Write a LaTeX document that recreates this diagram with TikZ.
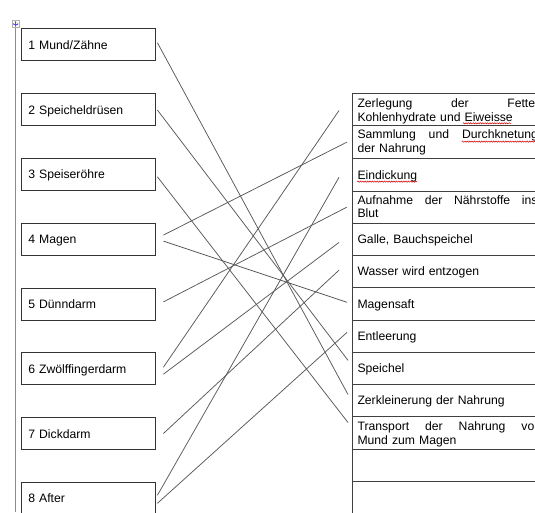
\documentclass[tikz,border=0pt]{standalone}
\usepackage{fontspec}
\setmainfont{Liberation Sans}
\usetikzlibrary{decorations.pathmorphing,arrows.meta}
\begin{document}
\begin{tikzpicture}[x=1pt,y=-1pt,
  txt/.style={font=\fontsize{12.2}{13.6}\selectfont},
  lbox/.style={txt, draw=black!80, line width=0.8pt, inner xsep=7.3pt, inner ysep=0pt,
    text width=119.4pt, align=left, minimum height=32pt, text height=10pt, text depth=0.8pt},
  rrow/.style={draw=black!75, line width=0.7pt, minimum width=250pt, anchor=north west, inner sep=0pt},
  rtext/.style={txt, anchor=base west, inner sep=0pt, text width=200pt, align=left},
  conn/.style={draw=black!65, line width=0.75pt},
  wavy/.style={draw=red!85!black, line width=0.5pt, decorate,
    decoration={snake, amplitude=0.6pt, segment length=2.4pt}}]
\useasboundingbox (0,0) rectangle (535,512);
\clip (0,0) rectangle (535,512);
\fill[white] (0,0) rectangle (535,512);

% left margin line and move handle
\draw[black!45, line width=1.3pt] (15.7,21) -- (15.7,512);
\node[draw=black!30, fill=white, minimum size=7pt, inner sep=0pt] (icon) at (15.6,24) {};
\draw[blue!70, line width=0.5pt, {Stealth[length=1.3pt,width=1.6pt]}-{Stealth[length=1.3pt,width=1.6pt]}] ([xshift=-2.8pt]icon.center) -- ([xshift=2.8pt]icon.center);
\draw[blue!70, line width=0.5pt, {Stealth[length=1.3pt,width=1.6pt]}-{Stealth[length=1.3pt,width=1.6pt]}] ([yshift=-2.8pt]icon.center) -- ([yshift=2.8pt]icon.center);

% left boxes
\node[lbox] (b1) at (88,44.7) {1 Mund/Zähne};
\node[lbox] (b2) at (88,109.5) {2 Speicheldrüsen};
\node[lbox] (b3) at (88,174.3) {3 Speiseröhre};
\node[lbox] (b4) at (88,239.1) {4 Magen};
\node[lbox] (b5) at (88,303.9) {5 Dünndarm};
\node[lbox] (b6) at (88,368.7) {6 Zwölffingerdarm};
\node[lbox] (b7) at (88,433.5) {7 Dickdarm};
\node[lbox] (b8) at (88,498.3) {8 After};

% right table rows
\node[rrow, minimum height=31.7pt] (r1) at (351.5,93.3) {};
\node[rrow, minimum height=33.4pt] (r2) at (351.5,125) {};
\node[rrow, minimum height=32.1pt] (r3) at (351.5,158.4) {};
\node[rrow, minimum height=32.4pt] (r4) at (351.5,190.5) {};
\node[rrow, minimum height=32.3pt] (r5) at (351.5,222.9) {};
\node[rrow, minimum height=32.2pt] (r6) at (351.5,255.2) {};
\node[rrow, minimum height=32.1pt] (r7) at (351.5,287.4) {};
\node[rrow, minimum height=32.5pt] (r8) at (351.5,319.5) {};
\node[rrow, minimum height=32pt] (r9) at (351.5,352) {};
\node[rrow, minimum height=32.3pt] (r10) at (351.5,384) {};
\node[rrow, minimum height=32.7pt] (r11) at (351.5,416.3) {};
\node[rrow, minimum height=32.2pt] (r12) at (351.5,449) {};
\node[rrow, minimum height=33pt] (r13) at (351.5,481.2) {};

% right texts
\node[rtext] (t1) at (357.3,107.5) {\hbox to 181pt{Zerlegung\hfill der\hfill Fette,}\\Kohlenhydrate und Eiweisse};
\node[rtext] (t2) at (357.3,138.7) {\hbox to 180.5pt{Sammlung\hfill und\hfill Durchknetung}\\der Nahrung};
\node[rtext] (t3) at (357.3,179) {Eindickung};
\node[rtext] (t4) at (357.3,204) {\hbox to 180pt{Aufnahme\hfill der\hfill Nährstoffe\hfill ins}\\Blut};
\node[rtext] (t5) at (357.3,243.5) {Galle, Bauchspeichel};
\node[rtext] (t6) at (357.3,275.8) {Wasser wird entzogen};
\node[rtext] (t7) at (357.3,308) {Magensaft};
\node[rtext] (t8) at (357.3,340.1) {Entleerung};
\node[rtext] (t9) at (357.3,372.6) {Speichel};
\node[rtext] (t10) at (357.3,404.6) {Zerkleinerung der Nahrung};
\node[rtext] (t11) at (357.3,430.5) {\hbox to 187pt{Transport\hfill der\hfill Nahrung\hfill vom}\\Mund zum Magen};

% spelling squiggles
\draw[wavy] (462.8,123.3) -- (511,123.3);
\draw[wavy] (461.7,141.6) -- (537,141.6);
\draw[wavy] (357.3,181.6) -- (417,181.6);

% connectors
\draw[conn] ([shift={(2,-2)}]b1.east) -- ([shift={(-3.5,-6)}]r10.west);
\draw[conn] ([shift={(2,0.5)}]b2.east) -- ([shift={(-3.5,-8)}]r9.west);
\draw[conn] ([shift={(2,2.5)}]b3.east) -- ([shift={(-3.5,-10.5)}]r11.west);
\draw[conn] ([shift={(8,-4)}]b4.east) -- ([shift={(-4.5,0)}]r2.west);
\draw[conn] ([shift={(8,2)}]b4.east) -- ([shift={(-4.5,-1.5)}]r7.west);
\draw[conn] ([shift={(8,-2)}]b5.east) -- ([shift={(-4.5,0)}]r4.west);
\draw[conn] ([shift={(8,-1.5)}]b6.east) -- ([shift={(-12.5,1)}]r1.west);
\draw[conn] ([shift={(8,5.5)}]b6.east) -- ([shift={(-12.5,3)}]r5.west);
\draw[conn] ([shift={(8,0)}]b7.east) -- ([shift={(-12.5,-1.5)}]r6.west);
\draw[conn] ([shift={(2,-3)}]b8.east) -- ([shift={(-12.5,2.5)}]r3.west);
\draw[conn] ([shift={(2,5)}]b8.east) -- ([shift={(-4.5,-3.7)}]r8.west);
\end{tikzpicture}
\end{document}
